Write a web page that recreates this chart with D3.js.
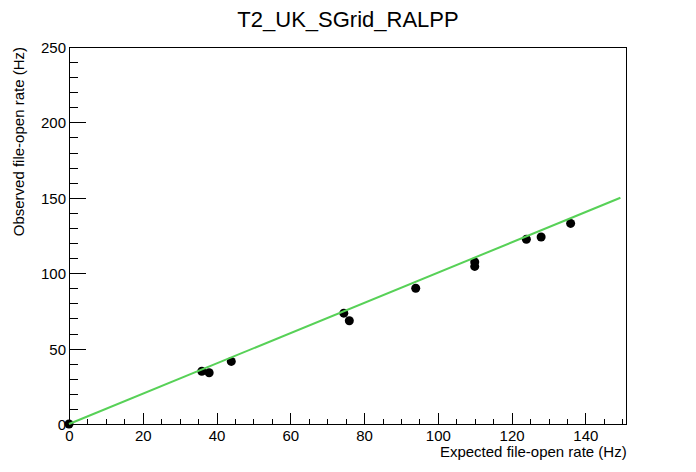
<!DOCTYPE html>
<html><head><meta charset="utf-8">
<script src="https://cdn.jsdelivr.net/npm/d3@7"></script>
<style>body{margin:0;background:#fff}svg{display:block}text{font-family:"Liberation Sans",Arial,sans-serif;fill:#000}</style>
</head><body>
<script>
const title = "T2_UK_SGrid_RALPP";
const xLabel = "Expected file-open rate (Hz)";
const yLabel = "Observed file-open rate (Hz)";
const expected = [0, 36, 38, 44, 74.5, 76, 94, 110, 110, 124, 128, 136];
const observed = [0, 35, 34, 41.5, 73.5, 68.5, 90, 107.5, 104.5, 122.5, 124, 133];
const fitLine = [[0, 0], [149.5, 150]];
const xTicksMajor = [0, 20, 40, 60, 80, 100, 120, 140];
const yTicksMajor = [0, 50, 100, 150, 200, 250];

const W = 696, H = 472;
const m = {l: 69, r: 69.3, t: 47, b: 48};
const svg = d3.select("body").append("svg").attr("width", W).attr("height", H);
const x = d3.scaleLinear().domain([0, 151.2]).range([m.l, W - m.r]);
const y = d3.scaleLinear().domain([0, 250]).range([H - m.b, m.t]);

// frame
svg.append("rect").attr("x", m.l).attr("y", m.t).attr("width", x(151.2) - m.l).attr("height", y(0) - m.t)
  .attr("fill", "none").attr("stroke", "#000").attr("stroke-width", 1).attr("shape-rendering", "crispEdges");

// x axis
const xMinor = d3.range(0, 151, 5).filter(v => v % 20 !== 0);
const gx = svg.append("g").attr("transform", `translate(0,${y(0)})`);
gx.call(d3.axisBottom(x).tickValues(xMinor).tickSize(-5.5).tickFormat(""));
gx.call(g => g.append("g").call(d3.axisBottom(x).tickValues(xTicksMajor).tickSize(-11).tickFormat(d3.format("d"))));
gx.selectAll(".domain").remove();
gx.selectAll("line").attr("stroke", "#000").attr("shape-rendering", "crispEdges");
gx.selectAll("text").attr("font-size", 15).attr("dy", null).attr("y", 17).attr("font-family", '"Liberation Sans",Arial,sans-serif');

// y axis
const yMinor = d3.range(0, 251, 10).filter(v => v % 50 !== 0);
const gy = svg.append("g").attr("transform", `translate(${x(0)},0)`);
gy.call(d3.axisLeft(y).tickValues(yMinor).tickSize(-8.5).tickFormat(""));
gy.call(g => g.append("g").call(d3.axisLeft(y).tickValues(yTicksMajor).tickSize(-17).tickFormat(d3.format("d"))));
gy.selectAll(".domain").remove();
gy.selectAll("line").attr("stroke", "#000").attr("shape-rendering", "crispEdges");
gy.selectAll("text").attr("font-size", 15).attr("x", -3).attr("dy", "0.36em").attr("font-family", '"Liberation Sans",Arial,sans-serif');

// points
svg.append("g").selectAll("circle").data(expected.map((e, i) => [e, observed[i]])).join("circle")
  .attr("cx", d => x(d[0])).attr("cy", d => y(d[1])).attr("r", 4.5).attr("fill", "#000");

// fit line
svg.append("path").datum(fitLine).attr("d", d3.line().x(d => x(d[0])).y(d => y(d[1])))
  .attr("stroke", "#57d157").attr("stroke-width", 2).attr("fill", "none");

// titles
svg.append("text").attr("x", 348).attr("y", 27).attr("text-anchor", "middle").attr("font-size", 22).text(title);
svg.append("text").attr("x", x(151.2)).attr("y", 457).attr("text-anchor", "end").attr("font-size", 15).text(xLabel);
svg.append("text").attr("transform", `translate(24,${m.t}) rotate(-90)`).attr("text-anchor", "end").attr("font-size", 15).text(yLabel);
</script>
</body></html>
